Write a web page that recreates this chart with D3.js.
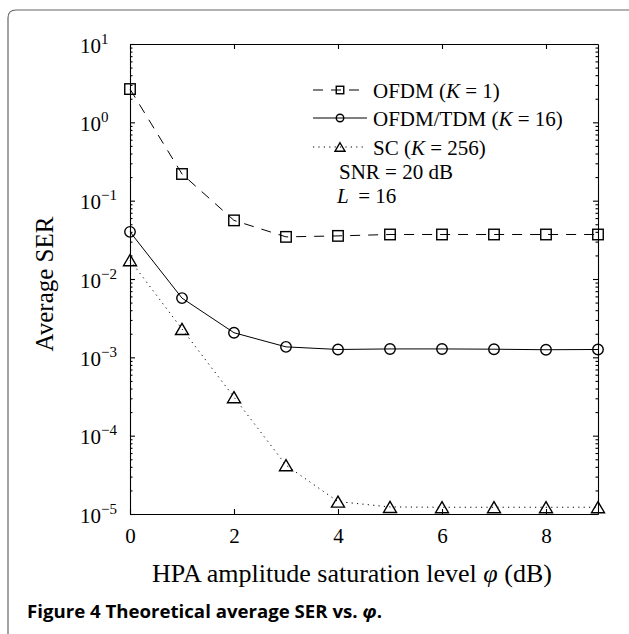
<!DOCTYPE html>
<html lang="en">
<head>
  <meta charset="UTF-8">
  <title>Theoretical average SER vs. phi</title>
  <script src="https://d3js.org/d3.v7.min.js"></script>
  <style>
    body { margin: 0; background: #fff; }
    .axis path, .axis line { stroke: #000; stroke-width: 1.1; }
    .serif { font-family: "Liberation Serif", "DejaVu Serif", serif; fill: #000; }
    .caption { font-family: "Open Sans", "Noto Sans", sans-serif; font-weight: bold; font-size: 18.5px; fill: #000; }
  </style>
</head>
<body>
  <svg id="chart" width="629" height="634"></svg>

  <script>
    // Data
    const phi = [0, 1, 2, 3, 4, 5, 6, 7, 8, 9];
    const serOFDM = [2.66, 0.219, 0.056, 0.0345, 0.0355, 0.037, 0.037, 0.037, 0.037, 0.037];
    const serTDM = [0.040, 0.0057, 0.00206, 0.00136, 0.00126, 0.00128, 0.00128, 0.00127, 0.00125, 0.00126];
    const serSC = [0.0174, 0.0023, 0.00031, 0.000042, 0.0000144, 0.0000123, 0.0000122, 0.0000122, 0.0000122, 0.0000122];
    const xTicks = [0, 2, 4, 6, 8];
    const yDecades = [-5, -4, -3, -2, -1, 0, 1];
    const legendLabels = ["OFDM (", "OFDM/TDM (", "SC ("];
    const legendK = [1, 16, 256];

    const svg = d3.select("#chart");

    // outer frame (top + left, rounded corner)
    svg.append("path")
      .attr("d", "M8,634 V18 Q8,10 16,10 H629")
      .attr("fill", "none")
      .attr("stroke", "#666")
      .attr("stroke-width", 1.2);

    const x = d3.scaleLinear().domain([0, 9]).range([130, 598]);
    const y = d3.scaleLog().domain([1e-5, 10]).range([514, 44]);

    const majors = yDecades.map(e => Math.pow(10, e));
    const minors = [];
    yDecades.slice(0, -1).forEach(e => {
      for (let k = 2; k <= 9; k++) minors.push(k * Math.pow(10, e));
    });

    // axes (box)
    svg.append("g").attr("class", "axis")
      .attr("transform", "translate(0,514)")
      .call(d3.axisBottom(x).tickValues(xTicks).tickSizeInner(-5).tickSizeOuter(0).tickPadding(14.5))
      .call(g => g.selectAll("text").attr("class", "serif").style("font-size", "21px"));
    svg.append("g").attr("class", "axis")
      .attr("transform", "translate(0,44)")
      .call(d3.axisTop(x).tickValues(xTicks).tickSizeInner(-5).tickSizeOuter(0).tickFormat(""));
    svg.append("g").attr("class", "axis")
      .attr("transform", "translate(130,0)")
      .call(d3.axisLeft(y).tickValues(majors).tickSizeInner(-5).tickSizeOuter(0).tickFormat(""));
    svg.append("g").attr("class", "axis")
      .attr("transform", "translate(598,0)")
      .call(d3.axisRight(y).tickValues(majors).tickSizeInner(-5).tickSizeOuter(0).tickFormat(""));
    svg.append("g").attr("class", "axis")
      .attr("transform", "translate(130,0)")
      .call(d3.axisLeft(y).tickValues(minors).tickSizeInner(-2.5).tickSizeOuter(0).tickFormat(""))
      .call(g => g.select(".domain").remove());
    svg.append("g").attr("class", "axis")
      .attr("transform", "translate(598,0)")
      .call(d3.axisRight(y).tickValues(minors).tickSizeInner(-2.5).tickSizeOuter(0).tickFormat(""))
      .call(g => g.select(".domain").remove());

    // y tick labels 10^e
    const yl = svg.append("g").selectAll("text")
      .data(yDecades)
      .enter()
      .append("text")
      .attr("class", "serif")
      .attr("x", 80)
      .attr("y", d => y(Math.pow(10, d)) + 8.5)
      .style("font-size", "21px");
    yl.append("tspan").text("10");
    yl.append("tspan")
      .attr("dy", -9)
      .style("font-size", "15px")
      .text(d => d < 0 ? "\u2212" + (-d) : String(d));

    // series
    const series = [
      { values: serOFDM, dash: "10,8", marker: "square" },
      { values: serTDM, dash: null, marker: "circle" },
      { values: serSC, dash: "1.2,4.2", marker: "triangle" }
    ];

    const line = d3.line()
      .x((d, i) => x(phi[i]))
      .y(d => y(d));

    function drawMarker(g, type, cx, cy, s) {
      if (type === "square") {
        g.append("rect")
          .attr("x", cx - s / 2).attr("y", cy - s / 2)
          .attr("width", s).attr("height", s);
      } else if (type === "circle") {
        g.append("circle").attr("cx", cx).attr("cy", cy).attr("r", s / 2);
      } else {
        const h = s * 0.85;
        g.append("path")
          .attr("d", `M${cx},${cy - h / 2} L${cx + s / 2},${cy + h / 2} L${cx - s / 2},${cy + h / 2} Z`);
      }
    }

    series.forEach(s => {
      svg.append("path")
        .datum(s.values)
        .attr("d", line)
        .attr("fill", "none")
        .attr("stroke", "#000")
        .attr("stroke-width", 1)
        .attr("stroke-dasharray", s.dash);
      const mg = svg.append("g")
        .attr("fill", "none")
        .attr("stroke", "#000")
        .attr("stroke-width", 1.4);
      s.values.forEach((v, i) => {
        drawMarker(mg, s.marker, x(phi[i]), y(v), s.marker === "triangle" ? 13 : 10.5);
      });
    });

    // legend
    const legRows = [98, 126, 155];
    series.forEach((s, i) => {
      const ly = legRows[i] - 8;
      svg.append("line")
        .attr("x1", 313).attr("x2", 367)
        .attr("y1", ly).attr("y2", ly)
        .attr("stroke", "#000")
        .attr("stroke-width", 1)
        .attr("stroke-dasharray", s.dash);
      const mg = svg.append("g")
        .attr("fill", "none")
        .attr("stroke", "#000")
        .attr("stroke-width", 1.4);
      drawMarker(mg, s.marker, 340, ly, s.marker === "triangle" ? 10 : 7.5);
      const t = svg.append("text")
        .attr("class", "serif")
        .attr("x", 373)
        .attr("y", legRows[i])
        .style("font-size", "21px");
      t.append("tspan").text(legendLabels[i]);
      t.append("tspan").style("font-style", "italic").text("K");
      t.append("tspan").text(" = " + legendK[i] + ")");
    });

    svg.append("text")
      .attr("class", "serif")
      .attr("x", 339)
      .attr("y", 179)
      .style("font-size", "21px")
      .text("SNR = 20 dB");
    const lt = svg.append("text")
      .attr("class", "serif")
      .attr("x", 337)
      .attr("y", 203)
      .style("font-size", "21px");
    lt.append("tspan").style("font-style", "italic").text("L");
    lt.append("tspan").text("\u2009 = 16");

    // axis labels
    const xl = svg.append("text")
      .attr("class", "serif")
      .attr("x", 352)
      .attr("y", 582)
      .style("font-size", "26px")
      .style("text-anchor", "middle");
    xl.append("tspan").text("HPA amplitude saturation level  ");
    xl.append("tspan").style("font-style", "italic").text("\u03C6");
    xl.append("tspan").text(" (dB)");

    svg.append("text")
      .attr("class", "serif")
      .attr("transform", "rotate(-90)")
      .attr("x", -284)
      .attr("y", 53)
      .style("font-size", "25px")
      .style("text-anchor", "middle")
      .text("Average SER");

    // caption
    const cap = svg.append("text")
      .attr("class", "caption")
      .attr("x", 27)
      .attr("y", 618)
      .attr("textLength", 355)
      .attr("lengthAdjust", "spacingAndGlyphs");
    cap.append("tspan").text("Figure 4 Theoretical average SER vs. ");
    cap.append("tspan").style("font-style", "italic").text("\u03C6");
    cap.append("tspan").text(".");
  </script>
</body>
</html>
